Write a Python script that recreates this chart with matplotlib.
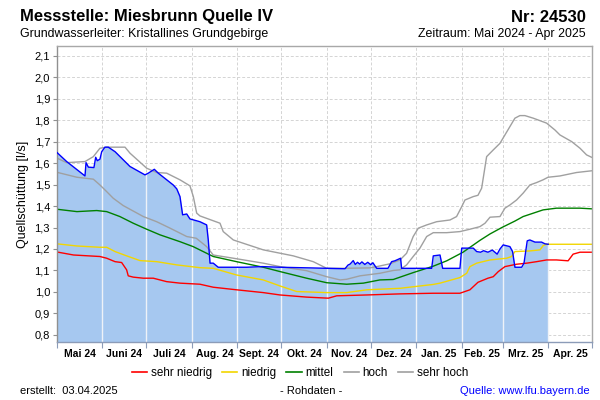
import datetime as dt
import numpy as np
import matplotlib
matplotlib.use("Agg")
import matplotlib.pyplot as plt

plt.rcParams['font.family'] = ['Liberation Sans', 'DejaVu Sans']

# ---- data (x = days since 2024-05-01) ----
blue_days = [0, 6.6, 19.1, 19.8, 21.4, 25.2, 26.4, 27.5, 29.3, 30.5, 32.7, 35.0, 39.6, 49.8,
             60.0, 62.3, 66.4, 69.1, 79.3, 81.7, 83.9, 85.7, 88.5, 90.7, 97.5, 102.1, 103.2,
             104.4, 106.6, 110.0, 129.4, 140, 152.1, 172.6, 196.5, 198.5, 200, 202.1, 203.5,
             205, 206.5, 208, 210, 212, 214, 215.5, 217, 218.1, 225.8, 228.3, 230.5, 232.8,
             234.4, 235.1, 255.6, 256.7, 261.3, 263.1, 274.9, 276.1, 284.0, 286.3, 289, 291,
             294, 297, 300.3, 302.2, 304.4, 309.0, 310.8, 312.4, 317.0, 318.6, 320.8, 322.6,
             326.1, 330.6, 332.9, 335.1]
blue_vals = [1.649, 1.607, 1.540, 1.602, 1.581, 1.579, 1.627, 1.611, 1.618, 1.653, 1.674, 1.674,
             1.653, 1.584, 1.545, 1.553, 1.571, 1.553, 1.498, 1.480, 1.444, 1.359, 1.363, 1.340,
             1.327, 1.312, 1.242, 1.134, 1.134, 1.115, 1.115, 1.118, 1.115, 1.112, 1.108, 1.125,
             1.130, 1.146, 1.128, 1.138, 1.130, 1.140, 1.128, 1.138, 1.127, 1.136, 1.121, 1.110,
             1.110, 1.141, 1.145, 1.152, 1.157, 1.110, 1.110, 1.168, 1.172, 1.110, 1.110, 1.204,
             1.204, 1.188, 1.185, 1.192, 1.185, 1.195, 1.176, 1.200, 1.219, 1.211, 1.188, 1.115,
             1.115, 1.134, 1.238, 1.242, 1.232, 1.232, 1.224, 1.222]

sehr_hoch_days = [0, 6.6, 19.1, 24.8, 29.3, 33.9, 46.4, 49.8, 61.2, 68.0, 74.8, 83.9, 90.7, 93.0,
                  95.3, 97.5, 111.2, 113.4, 120.3, 140.7, 161.2, 174.8, 184.0, 195.1, 213.5,
                  220.3, 227.1, 234.0, 238.5, 243.0, 246.5, 252.2, 259.0, 268.1, 272.6, 276.1,
                  278.3, 284.0, 287.2, 289.7, 293.1, 297.6, 302.2, 305.6, 309.0, 312.4, 315.8,
                  319.2, 324.9, 334.0, 339.7, 343.1, 351.1, 356.8, 361.3, 364.7]
sehr_hoch_vals = [1.623, 1.602, 1.607, 1.630, 1.669, 1.674, 1.674, 1.646, 1.576, 1.556, 1.553,
                  1.522, 1.494, 1.444, 1.367, 1.354, 1.320, 1.281, 1.242, 1.196, 1.168, 1.141,
                  1.110, 1.110, 1.112, 1.121, 1.131, 1.149, 1.180, 1.258, 1.297, 1.312, 1.327,
                  1.335, 1.351, 1.397, 1.428, 1.444, 1.450, 1.483, 1.630, 1.661, 1.692, 1.731,
                  1.770, 1.809, 1.821, 1.821, 1.809, 1.786, 1.754, 1.731, 1.700, 1.669, 1.638,
                  1.627]

hoch_days = [0, 13.6, 24.8, 29.3, 33.9, 38.4, 45.2, 58.9, 68.0, 77.1, 88.5, 95, 102.1, 106.6,
             120.3, 140.7, 152.1, 170.3, 184.0, 193.1, 197.6, 206.7, 220.3, 229.4, 234.0, 238.5,
             243.0, 247.6, 252.2, 256.7, 265.9, 274.9, 281.7, 288.5, 292.0, 295.4, 302.2, 305.6,
             309.0, 313.5, 318.0, 322.6, 327.1, 331.6, 335.0, 343.1, 354.4, 364.7]
hoch_vals = [1.557, 1.534, 1.525, 1.498, 1.467, 1.436, 1.402, 1.351, 1.327, 1.297, 1.258, 1.250,
             1.211, 1.172, 1.157, 1.134, 1.118, 1.099, 1.071, 1.056, 1.059, 1.075, 1.087, 1.100,
             1.103, 1.126, 1.165, 1.204, 1.258, 1.276, 1.276, 1.281, 1.292, 1.304, 1.320, 1.348,
             1.351, 1.390, 1.405, 1.428, 1.460, 1.498, 1.509, 1.522, 1.534, 1.540, 1.556, 1.564]

mittel_days = [0, 13.6, 27.1, 33.9, 42.9, 52.0, 61.2, 70.2, 83.9, 92.9, 106.6, 122.5, 140.7,
               152.1, 170.3, 184.0, 197.6, 209, 220.3, 229.4, 243.0, 256.7, 265.9, 277, 288.5,
               295.4, 303.5, 312.4, 318.0, 331.6, 340.7, 356.8, 364.7]
mittel_vals = [1.385, 1.374, 1.379, 1.374, 1.351, 1.320, 1.292, 1.266, 1.234, 1.211, 1.165, 1.141,
               1.115, 1.095, 1.064, 1.043, 1.036, 1.041, 1.056, 1.058, 1.090, 1.120, 1.145, 1.185,
               1.240, 1.270, 1.300, 1.330, 1.351, 1.382, 1.390, 1.390, 1.387]

niedrig_days = [0, 13.6, 29.3, 33.9, 39.6, 47.5, 56.6, 68.0, 81.7, 97.5, 106.6, 122.5, 140.7,
                152.1, 163.5, 184.0, 197.6, 211.3, 234, 256.7, 261.3, 274.9, 279.5, 281.7, 286.3,
                295.4, 306.7, 310.1, 312.4, 322.6, 329.5, 331.7, 334.0, 364.7]
niedrig_vals = [1.224, 1.214, 1.208, 1.208, 1.188, 1.168, 1.146, 1.141, 1.126, 1.113, 1.110,
                1.079, 1.056, 1.028, 1.002, 0.997, 0.997, 1.010, 1.017, 1.035, 1.041, 1.067, 1.087,
                1.118, 1.134, 1.149, 1.157, 1.165, 1.188, 1.191, 1.196, 1.216, 1.222, 1.222]

sehr_niedrig_days = [0, 11.3, 29.3, 33.9, 39.6, 44.1, 47.5, 48.6, 52.0, 58.9, 65.7, 74.8, 83.9,
                     97.5, 106.6, 122.5, 140.7, 152.1, 170.3, 185.1, 190.8, 211.3, 234.0, 256.7,
                     274.9, 281.7, 287.2, 294.0, 297.6, 301.1, 305.6, 313.5, 320.4, 327.2, 334.0,
                     340.8, 348.7, 352.1, 356.8, 364.7]
sehr_niedrig_vals = [1.186, 1.172, 1.165, 1.157, 1.141, 1.137, 1.103, 1.075, 1.069, 1.064, 1.064,
                     1.048, 1.041, 1.036, 1.022, 1.010, 0.997, 0.986, 0.976, 0.971, 0.982, 0.986,
                     0.991, 0.994, 0.994, 1.010, 1.045, 1.064, 1.071, 1.095, 1.118, 1.129, 1.134,
                     1.141, 1.149, 1.149, 1.145, 1.176, 1.185, 1.185]

month_labels = ["Mai 24", "Juni 24", "Juli 24", "Aug. 24", "Sept. 24", "Okt. 24", "Nov. 24",
                "Dez. 24", "Jan. 25", "Feb. 25", "Mrz. 25", "Apr. 25"]
month_starts = ["2024-05-01", "2024-06-01", "2024-07-01", "2024-08-01", "2024-09-01",
                "2024-10-01", "2024-11-01", "2024-12-01", "2025-01-01", "2025-02-01",
                "2025-03-01", "2025-04-01", "2025-05-01"]
y_ticks = [0.8, 0.9, 1.0, 1.1, 1.2, 1.3, 1.4, 1.5, 1.6, 1.7, 1.8, 1.9, 2.0, 2.1]

# ---- figure ----
base = dt.date(2024, 5, 1)
bounds = np.array([(dt.date.fromisoformat(s) - base).days for s in month_starts], float)
mids = (bounds[:-1] + bounds[1:]) / 2

fig = plt.figure(figsize=(6, 4), dpi=100)
ax = fig.add_axes([0.095, 0.145, 0.8917, 0.74])
ymin, ymax = 0.767, 2.145
ax.set_xlim(bounds[0], bounds[-1])
ax.set_ylim(ymin, ymax)

# grid
for yt in y_ticks:
    ax.axhline(yt, color='#d4d4d4', lw=0.7, ls=(0, (3, 2)), zorder=0)
for b in bounds[1:-1]:
    ax.axvline(b, color='#d4d4d4', lw=0.7, ls=(0, (3, 2)), zorder=0)

ax.fill_between(blue_days, ymin, blue_vals, color='#a6c8f0', lw=0, zorder=1)
inside = bounds[(bounds > blue_days[0]) & (bounds < blue_days[-1])]
ax.vlines(inside, ymin, np.interp(inside, blue_days, blue_vals), color='#eef2f8', lw=1.0, zorder=1.5)

lw = 1.0
ax.plot(sehr_hoch_days, sehr_hoch_vals, color='#a0a0a0', lw=lw, zorder=2)
ax.plot(hoch_days, hoch_vals, color='#a0a0a0', lw=lw, zorder=2)
ax.plot(mittel_days, mittel_vals, color='#008000', lw=lw, zorder=2)
ax.plot(niedrig_days, niedrig_vals, color='#f2d600', lw=lw, zorder=2)
ax.plot(sehr_niedrig_days, sehr_niedrig_vals, color='#ff0000', lw=lw, zorder=2)
ax.plot(blue_days, blue_vals, color='#0000ff', lw=lw, zorder=3)

# axes styling
for s in ax.spines.values():
    s.set_color('#a8a8a8')
    s.set_linewidth(1.0)
ax.spines['bottom'].set_color('#8c9cb8')
ax.spines['left'].set_color('#909090')

ax.set_yticks(y_ticks)
ax.set_yticklabels([f"{v:.1f}".replace('.', ',') for v in y_ticks], fontsize=8)
ax.tick_params(axis='y', length=3, color='#909090', pad=2)

ax.set_xticks(bounds)
ax.set_xticklabels([])
ax.tick_params(axis='x', which='major', length=4, color='#8c9cb8')
ax.set_xticks(mids, minor=True)
ax.set_xticklabels(month_labels, minor=True, fontsize=7.5, fontweight='bold')
ax.tick_params(axis='x', which='minor', length=0, pad=5)

ax.set_ylabel("Quellschüttung [l/s]", fontsize=9, labelpad=4)

# legend
handles = [plt.Line2D([], [], color=c, lw=1.2) for c in
           ['#ff0000', '#f2d600', '#008000', '#a0a0a0', '#a0a0a0']]
fig.legend(handles, ["sehr niedrig", "niedrig", "mittel", "hoch", "sehr hoch"],
           loc='center', bbox_to_anchor=(0.5, 1 - 373 / 400), ncol=5, frameon=False,
           fontsize=8.4, handlelength=1.3, handletextpad=0.3, columnspacing=0.9)

# texts
fig.text(20 / 600, 1 - 17 / 400, "Messstelle: Miesbrunn Quelle IV", fontsize=12,
         fontweight='bold', va='center', ha='left')
fig.text(586 / 600, 1 - 17 / 400, "Nr: 24530", fontsize=12, fontweight='bold',
         va='center', ha='right')
fig.text(20 / 600, 1 - 34 / 400, "Grundwasserleiter: Kristallines Grundgebirge",
         fontsize=8.9, va='center', ha='left')
fig.text(586 / 600, 1 - 34 / 400, "Zeitraum: Mai 2024 - Apr 2025", fontsize=8.9,
         va='center', ha='right')
fig.text(20 / 600, 1 - 391 / 400, "erstellt:  03.04.2025", fontsize=8, va='center', ha='left')
fig.text(311 / 600, 1 - 391 / 400, "- Rohdaten -", fontsize=8, va='center', ha='center')
fig.text(590 / 600, 1 - 391 / 400, "Quelle: www.lfu.bayern.de", fontsize=8, va='center',
         ha='right', color='#0000ff')

fig.savefig("out.png", dpi=100)
